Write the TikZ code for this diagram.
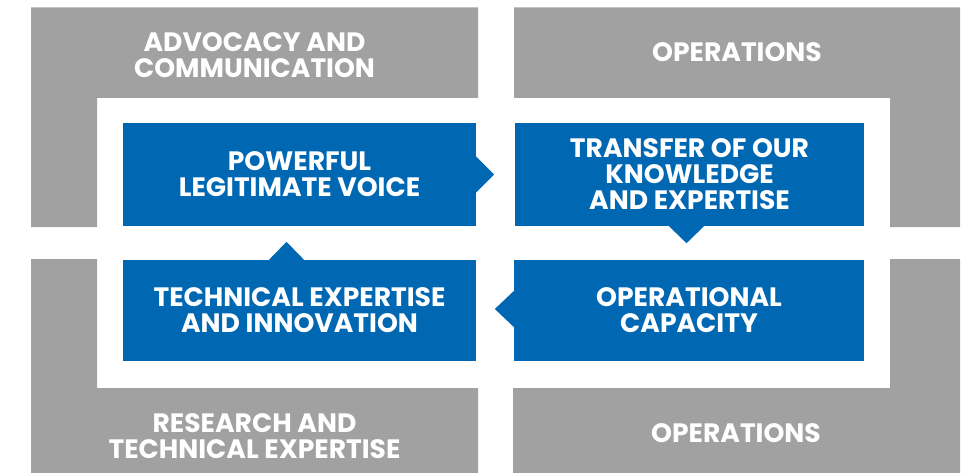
\documentclass[tikz,border=0pt]{standalone}
\usepackage{fontspec}
\setmainfont{Poppins}
\usepackage{xcolor}
\definecolor{boxblue}{RGB}{0,104,178}
\definecolor{bargray}{RGB}{161,161,161}

\begin{document}
\begin{tikzpicture}[x=1pt, y=-1pt,
		box/.style={fill=boxblue, text=white, align=center, inner sep=0pt,
			font=\fontsize{26.6}{26}\selectfont\bfseries},
		bar/.style={text=white, align=center, inner sep=0pt,
			font=\fontsize{26.6}{26}\selectfont\bfseries}]
		\useasboundingbox (0,0) rectangle (976,473);

		% gray frames
		\fill[bargray] (31,7.5) -- (478,7.5) -- (478,98) -- (97,98) -- (97,227) -- (31,227) -- cycle;
		\fill[bargray] (514,7.5) -- (960,7.5) -- (960,227) -- (890,227) -- (890,98) -- (514,98) -- cycle;
		\fill[bargray] (31,259) -- (97,259) -- (97,388) -- (478,388) -- (478,473) -- (31,473) -- cycle;
		\fill[bargray] (890,259) -- (960,259) -- (960,473) -- (513,473) -- (513,388) -- (890,388) -- cycle;

		\node[bar] (adv) at (254.5,55) {ADVOCACY AND\\COMMUNICATION};
		\node[bar] (opt) at (737,52) {OPERATIONS};
		\node[bar] (res) at (254.5,436) {RESEARCH AND\\TECHNICAL EXPERTISE};
		\node[bar] (opb) at (736,433) {OPERATIONS};

		% blue boxes
		\node[box, minimum width=353, minimum height=103] (pw) at (299.5,174.5) {POWERFUL\\LEGITIMATE VOICE};
		\node[box, minimum width=349, minimum height=103] (tk) at (689.5,174.5) {TRANSFER OF OUR\\KNOWLEDGE\\AND EXPERTISE};
		\node[box, minimum width=350, minimum height=101] (oc) at (689,310.5) {OPERATIONAL\\CAPACITY};
		\node[box, minimum width=353, minimum height=101] (te) at (299.5,310.5) {TECHNICAL EXPERTISE\\AND INNOVATION};

		% pointers
		\fill[boxblue] (pw.east) ++(0,-18) -- ++(18,18) -- ++(-18,18) -- cycle;
		\fill[boxblue] (tk.south) ++(-20.5,0) -- ++(17.5,17) -- ++(17.5,-17) -- cycle;
		\fill[boxblue] (oc.west) ++(0,-19.5) -- ++(-19,18) -- ++(19,18) -- cycle;
		\fill[boxblue] (te.north) ++(-30.5,0) -- ++(17.5,-18) -- ++(17.5,18) -- cycle;
	\end{tikzpicture}
\end{document}
